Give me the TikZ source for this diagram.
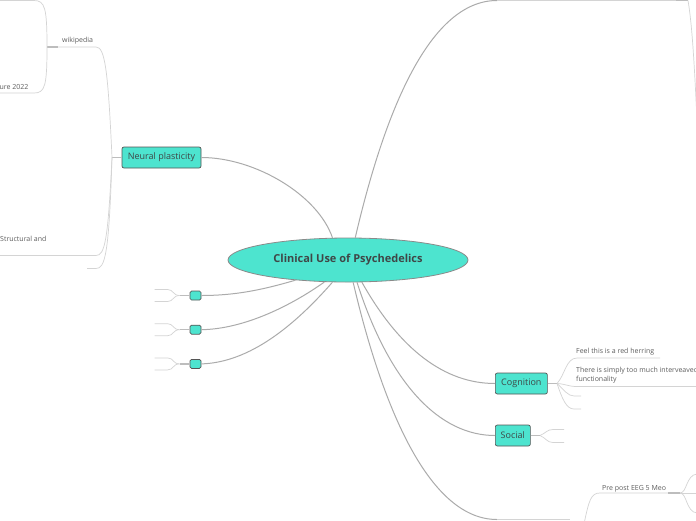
\documentclass[tikz,border=0pt]{standalone}
\usepackage{fontspec}
\setmainfont{Open Sans}
\usetikzlibrary{positioning,shapes.geometric}
\definecolor{Teal}{HTML}{4DE4CF}
\definecolor{RootLine}{HTML}{8A8A8A}
\definecolor{TopicLine}{HTML}{555555}
\definecolor{Ink}{HTML}{3F4747}
\definecolor{Label}{HTML}{5E5E5E}
\definecolor{Branch}{HTML}{ABABAB}
\definecolor{Twig}{HTML}{D4D4D4}
\definecolor{Stub}{HTML}{BDBDBD}
\tikzset{
  rootnode/.style={ellipse,draw=RootLine,fill=Teal,line width=.8pt,minimum width=240pt,minimum height=44pt,inner sep=0pt,text=Ink,font=\fontsize{11}{13}\selectfont\bfseries},
  topic/.style={draw=TopicLine,fill=Teal,line width=.7pt,rounded corners=2pt,minimum height=21pt,inner xsep=5pt,inner ysep=0pt,text=Ink,font=\fontsize{9}{10}\selectfont},
  blank/.style={draw=TopicLine,fill=Teal,line width=.7pt,rounded corners=1.5pt,minimum width=11pt,minimum height=9pt,inner sep=0pt},
  note/.style={inner sep=0pt,text=Label,font=\fontsize{7}{9.5}\selectfont,align=left},
  branch/.style={draw=Branch,line width=1pt},
  twig/.style={draw=Twig,line width=.7pt},
  stub/.style={draw=Stub,line width=1.3pt}
}
\begin{document}
\begin{tikzpicture}[x=1pt,y=-1pt]
  \useasboundingbox[fill=white] (0,0) rectangle (696,520);
  \clip (0,0) rectangle (696,520);
  % central topic and main topics
  \node[rootnode] (root) at (348,260) {Clinical Use of Psychedelics};
  \node[topic,minimum width=79pt] (plast) at (161.5,157.5) {Neural plasticity};
  \node[topic,minimum width=52pt,anchor=west] (cog) at (495,383.5) {Cognition};
  \node[topic,minimum width=35pt,anchor=west] (soc) at (495,435.5) {Social};
  \node[blank] (sqa) at (195.5,295.5) {};
  \node[blank,below=24.5pt of sqa] (sqb) {};
  \node[blank,below=24.5pt of sqb] (sqc) {};
  \coordinate (topend) at (497,0.5);
  \coordinate (botend) at (497,519.5);
  % notes
  \node[note,anchor=base west] (wiki) at (62,42) {wikipedia};
  \node[note,anchor=base east] (nature) at (28.5,89) {ure 2022};
  \node[note,anchor=base west] (struct) at (0,241) {Structural and};
  \node[note,anchor=base west] (herring) at (576,353) {Feel this is a red herring};
  \node[note,anchor=base west] (weave) at (576,381.5) {There is simply too much interveaved\\functionality};
  \node[note,anchor=base west] (eeg) at (602,490) {Pre post EEG 5 Meo};
  % main branches
  \draw[branch] (root.125) .. controls (318,195) and (255,157.5) .. (plast.east);
  \draw[branch] (root.72) .. controls (385,110) and (430,0.5) .. (topend);
  \draw[branch] (root.-77) .. controls (383,410) and (430,519.5) .. (botend);
  \draw[branch] (root.-58) .. controls (400,350) and (445,383.5) .. (cog.west);
  \draw[branch] (root.-68) .. controls (390,385) and (440,435.5) .. (soc.west);
  \draw[branch] (root.-159) .. controls (262,290) and (235,295.5) .. (sqa.east);
  \draw[branch] (root.-137) .. controls (292,305) and (245,329) .. (sqb.east);
  \draw[branch] (root.-125) .. controls (295,325) and (250,362.5) .. (sqc.east);
  % neural plasticity
  \coordinate (pfork) at (112,157.5);
  \coordinate (wfork) at (47,47);
  \draw[stub] (plast.west) -- (pfork);
  \draw[twig] (pfork) .. controls (108,70) and (105,47) .. (96,47) -- (wfork);
  \draw[twig] (pfork) .. controls (108,240) and (105,255.5) .. (96,255.5) -- (0,255.5);
  \draw[twig] (pfork) .. controls (109,255) and (105,268.5) .. (96,268.5) -- (87,268.5);
  \draw[stub] (wfork) -- (58,47);
  \draw[twig] (wfork) .. controls (47,8) and (45,0.5) .. (34,0.5) -- (0,0.5);
  \draw[twig] (wfork) .. controls (47,86) and (45,93) .. (34,93) -- (0,93);
  % cognition
  \coordinate (cfork) at (557,383.5);
  \draw[stub] (cog.east) -- (cfork);
  \draw[twig] (cfork) .. controls (565,375) and (566,358) .. (577,358) -- (660,358);
  \draw[twig] (cfork) .. controls (566,384) and (568,386.5) .. (577,386.5) -- (696,386.5);
  \draw[twig] (cfork) .. controls (564,390) and (568,396) .. (574,396) -- (581,396);
  \draw[twig] (cfork) .. controls (562,398) and (566,409) .. (574,409) -- (581,409);
  % social
  \coordinate (sfork) at (540,435.5);
  \draw[stub] (soc.east) -- (sfork);
  \draw[twig] (sfork) .. controls (546,433) and (547,429.5) .. (553,429.5) -- (564,429.5);
  \draw[twig] (sfork) .. controls (546,438) and (547,442.5) .. (553,442.5) -- (564,442.5);
  % empty topics
  \foreach \sq in {sqa,sqb,sqc} {
    \draw[stub] (\sq.west) -- ++(-10,0) coordinate (\sq-fork);
    \draw[twig] (\sq-fork) .. controls +(-7,0) and +(6,0) .. ++(-12,-6) -- ++(-13,0);
    \draw[twig] (\sq-fork) .. controls +(-7,0) and +(6,0) .. ++(-12,6) -- ++(-13,0);
  }
  % top right
  \draw[twig] (topend) -- (676,0.5);
  \draw[stub] (676,0.5) -- (688,0.5);
  \draw[twig] (688,0.5) .. controls (693,30) and (695,80) .. (698,140);
  % bottom right
  \coordinate (efork) at (680,493);
  \draw[twig] (botend) -- (570,519.5);
  \draw[twig] (584,524) .. controls (589,500) and (591,493) .. (600,493) -- (668,493);
  \draw[stub] (668,493) -- (efork);
  \draw[twig] (efork) .. controls (687,493) and (686,475) .. (697,474);
  \draw[twig] (efork) -- (697,493);
  \draw[twig] (efork) .. controls (687,493) and (686,512) .. (697,513);
\end{tikzpicture}
\end{document}
